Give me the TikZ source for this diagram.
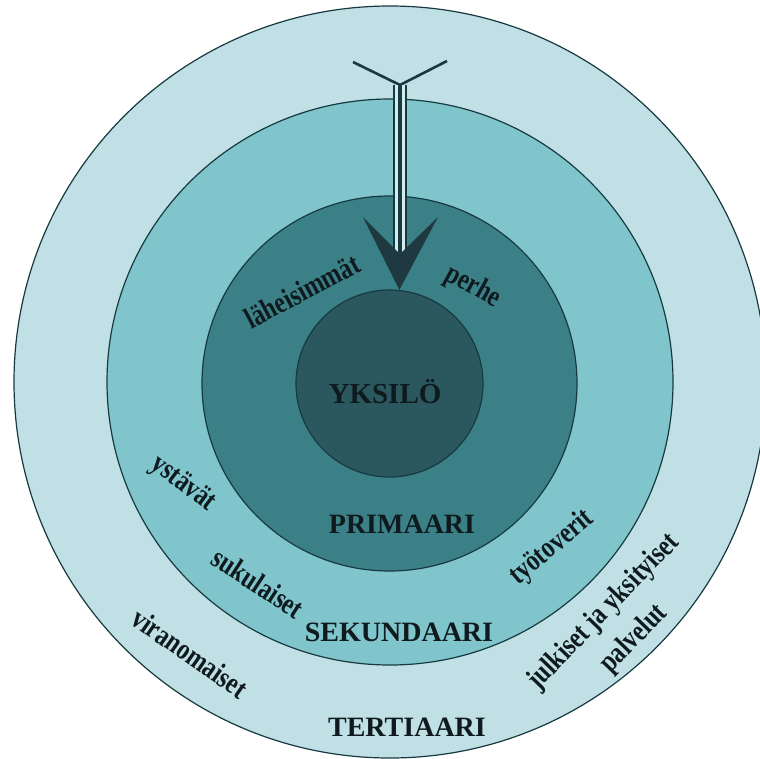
\documentclass[tikz,border=0pt]{standalone}
\usepackage{fontspec}
\setmainfont{Liberation Serif}
\newfontfamily\condfont[FakeStretch=0.8]{Liberation Serif}
\definecolor{cTer}{HTML}{C0E0E5}
\definecolor{cSek}{HTML}{80C4CC}
\definecolor{cPri}{HTML}{3C8087}
\definecolor{cYks}{HTML}{2A585E}
\definecolor{linecol}{HTML}{163A40}
\definecolor{arrowcol}{HTML}{1E3A40}
\definecolor{shaftcol}{HTML}{D2ECEF}
\definecolor{txt}{HTML}{0E1A1E}
\begin{document}
\begin{tikzpicture}[x=1pt,y=-1pt,
  ring/.style={circle, draw=linecol, line width=1.2pt, inner sep=0pt},
  level/.style={font=\bfseries\fontsize{28}{30}\selectfont, text=txt, inner sep=0pt},
  lab/.style={font=\condfont\bfseries\fontsize{30}{32}\selectfont, text=txt, inner sep=0pt}]
\useasboundingbox (0,0) rectangle (760,758);
\clip (0,0) rectangle (760,758);
\fill[white] (0,0) rectangle (760,758);
% rings
\node[ring, fill=cTer, minimum size=752pt] (ter) at (390,382) {};
\node[ring, fill=cSek, minimum size=566pt] (sek) at (390,382) {};
\node[ring, fill=cPri, minimum size=375pt] (pri) at (389.5,383.5) {};
\node[ring, fill=cYks, minimum size=187pt] (yks) at (389.5,383.5) {};
% arrow
\coordinate (tail) at (400,85);
\coordinate (armL) at (353,62);
\coordinate (armR) at (447,61);
\coordinate (shaftend) at (400,254);
\coordinate (wingL) at (363,217);
\coordinate (wingR) at (438,217);
\draw[linecol, line width=2.6pt] (armL) -- (tail) -- (armR);
\fill[shaftcol] ([xshift=-6.5pt]tail) rectangle ([xshift=6.5pt]shaftend);
\draw[linecol, line width=1.2pt] ([xshift=-6pt]tail) -- ([xshift=-6pt]shaftend);
\draw[linecol, line width=1.2pt] ([xshift=6pt]tail) -- ([xshift=6pt]shaftend);
\draw[linecol, line width=4pt] (tail) -- (shaftend);
\fill[arrowcol] (yks.84) -- (wingL) -- (shaftend) -- (wingR) -- cycle;
% level names
\node[level, font=\bfseries\fontsize{29}{30}\selectfont] (tYks) at (385,392) {YKSILÖ};
\node[level] (tPri) at (402,524) {PRIMAARI};
\node[level] (tSek) at (399,632) {SEKUNDAARI};
\node[level] (tTer) at (407,727) {TERTIAARI};
% group labels
\node[lab, rotate=28] (lLah) at (302,291) {läheisimmät};
\node[lab, rotate=-29] (lPer) at (473,287) {perhe};
\node[lab, rotate=-37] (lYst) at (183,484) {ystävät};
\node[lab, rotate=-33] (lSuk) at (258,583) {sukulaiset};
\node[lab, rotate=-35] (lVir) at (190,653) {viranomaiset};
\node[lab, rotate=40] (lTyo) at (552,548) {työtoverit};
\node[lab, rotate=46] (lJul) at (604,612) {julkiset ja yksityiset};
\node[lab, rotate=46] (lPal) at (634,639) {palvelut};
\end{tikzpicture}
\end{document}
